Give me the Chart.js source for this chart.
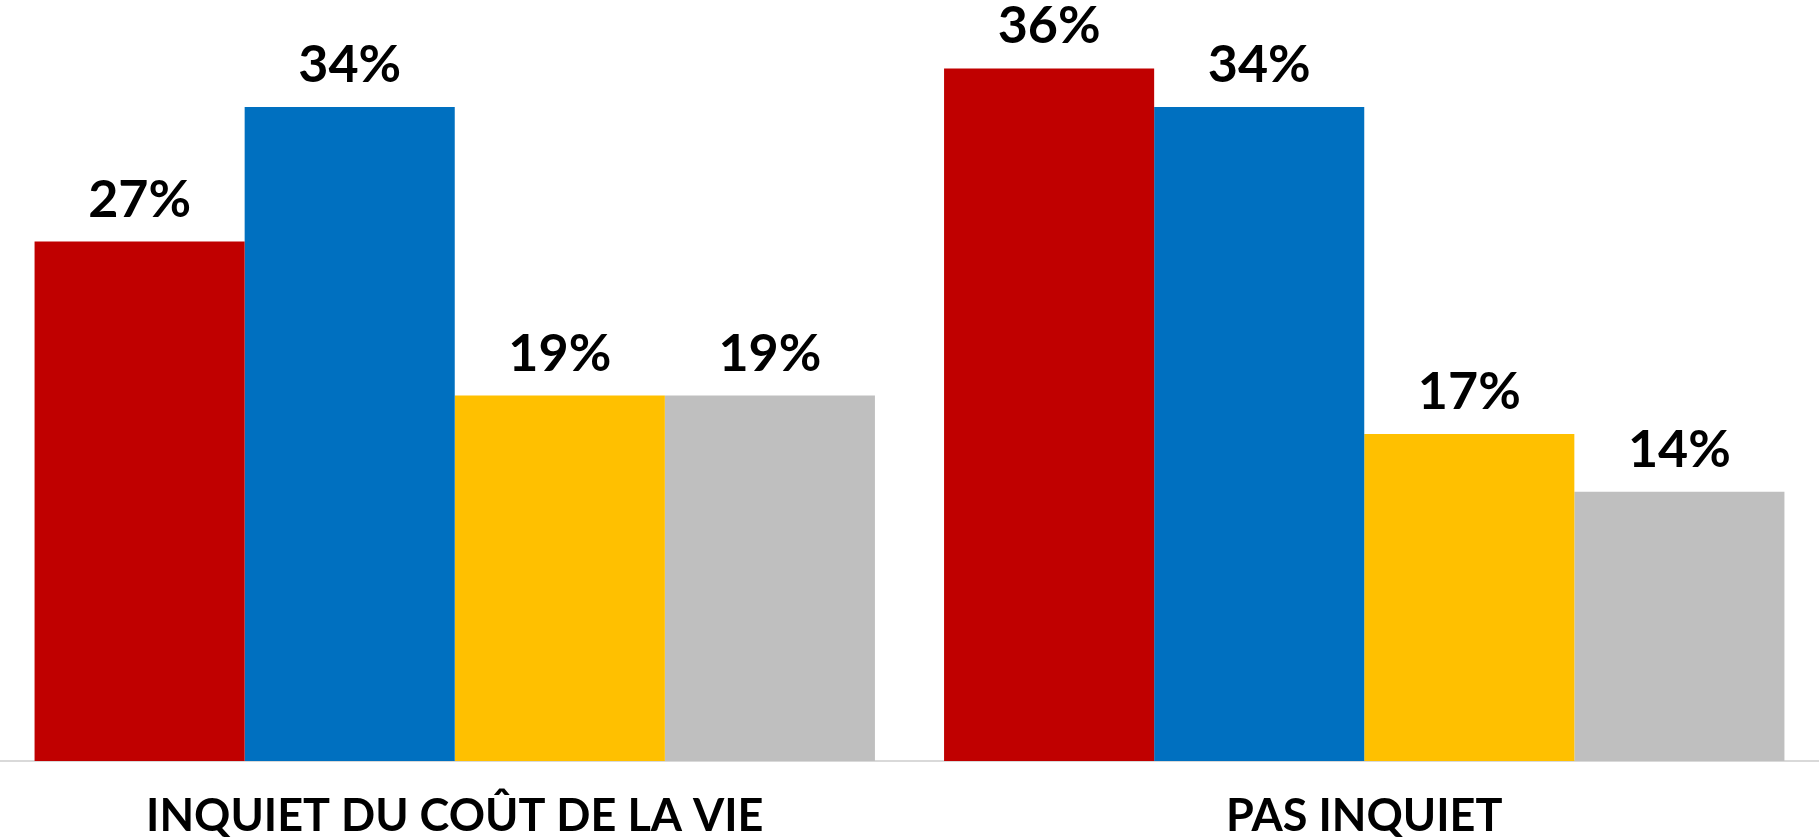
<!DOCTYPE html>
<html lang="fr">
<head>
<meta charset="utf-8">
<title>Inquiétude du coût de la vie</title>
<script src="https://cdn.jsdelivr.net/npm/chart.js@4/dist/chart.umd.min.js"></script>
<style>
  html, body { margin: 0; padding: 0; background: #fff; overflow: hidden; }
  /* a little taller than the window so the axis labels sit close to the bottom edge */
  #wrap { position: relative; width: 1819px; height: 864px; }
</style>
</head>
<body>
<div id="wrap"><canvas id="chart"></canvas></div>
<script>
// ---------- data ----------
const categories = ['INQUIET DU COÛT DE LA VIE', 'PAS INQUIET'];
const redValues = [27, 36];
const blueValues = [34, 34];
const yellowValues = [19, 17];
const greyValues = [19, 14];

const colors = ['#C00000', '#0070C0', '#FFC000', '#BFBFBF'];
const FONT = 'Lato, "Noto Sans", sans-serif';

// ---------- value labels above each bar ----------
const valueLabels = {
  id: 'valueLabels',
  afterDatasetsDraw(chart) {
    const ctx = chart.ctx;
    ctx.save();
    ctx.font = '700 52px ' + FONT;
    ctx.fillStyle = '#000';
    ctx.textAlign = 'center';
    ctx.textBaseline = 'alphabetic';
    chart.data.datasets.forEach((ds, i) => {
      chart.getDatasetMeta(i).data.forEach((bar, j) => {
        ctx.fillText(ds.data[j] + '%', bar.x, bar.y - 25);
      });
    });
    ctx.restore();
  }
};

const series = [redValues, blueValues, yellowValues, greyValues];

new Chart(document.getElementById('chart'), {
  type: 'bar',
  data: {
    labels: categories,
    datasets: series.map((values, i) => ({
      data: values,
      backgroundColor: colors[i],
      borderWidth: 0,
      categoryPercentage: 0.924,
      barPercentage: 1
    }))
  },
  options: {
    responsive: true,
    maintainAspectRatio: false,
    animation: false,
    layout: { padding: { top: 30, left: 0, right: 0, bottom: 0 } },
    plugins: {
      legend: { display: false },
      tooltip: { enabled: false }
    },
    scales: {
      x: {
        grid: { display: false },
        border: { display: true, color: '#D9D9D9', width: 2 },
        ticks: {
          color: '#000',
          padding: 25,
          maxRotation: 0,
          font: { family: FONT, size: 45, weight: '700', lineHeight: 1 }
        }
      },
      y: {
        display: false,
        min: 0,
        max: 38
      }
    }
  },
  plugins: [valueLabels]
});
</script>
</body>
</html>
